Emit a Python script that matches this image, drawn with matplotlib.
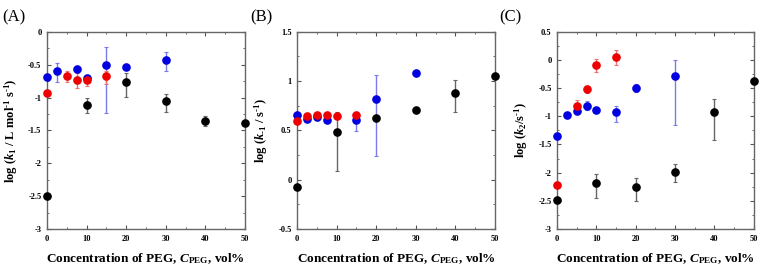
import matplotlib
matplotlib.use("Agg")
import matplotlib.pyplot as plt
from matplotlib.ticker import MultipleLocator, FuncFormatter

plt.rcParams['font.family'] = ['Liberation Serif', 'DejaVu Serif']
plt.rcParams['mathtext.fontset'] = 'custom'
plt.rcParams['mathtext.rm'] = 'Liberation Serif:bold'
plt.rcParams['mathtext.it'] = 'Liberation Serif:italic:bold'
plt.rcParams['mathtext.bf'] = 'Liberation Serif:bold'

# ---- Panel A data ----
a_black_x = [0, 10, 20, 30, 40, 50]
a_black_y = [-2.5, -1.11, -0.77, -1.05, -1.35, -1.39]
a_black_lo = [0, 0.12, 0.22, 0.17, 0.08, 0]
a_black_hi = [0, 0.10, 0.15, 0.11, 0.07, 0]
a_blue_x = [0, 2.5, 7.5, 10, 15, 20, 30]
a_blue_y = [-0.69, -0.60, -0.56, -0.71, -0.50, -0.54, -0.43]
a_blue_lo = [0, 0.17, 0, 0.04, 0.73, 0, 0.16]
a_blue_hi = [0, 0.12, 0, 0.04, 0.27, 0, 0.12]
a_red_x = [0, 5, 7.5, 10, 15]
a_red_y = [-0.93, -0.67, -0.73, -0.74, -0.68]
a_red_lo = [0, 0.10, 0.13, 0.09, 0.11]
a_red_hi = [0, 0.08, 0.10, 0.06, 0.09]

# ---- Panel B data ----
b_black_x = [0, 10, 20, 30, 40, 50]
b_black_y = [-0.07, 0.48, 0.63, 0.71, 0.88, 1.05]
b_black_lo = [0, 0.39, 0, 0, 0.19, 0]
b_black_hi = [0, 0.21, 0, 0, 0.13, 0]
b_blue_x = [0, 2.5, 5, 7.5, 15, 20, 30]
b_blue_y = [0.66, 0.62, 0.64, 0.61, 0.61, 0.82, 1.08]
b_blue_lo = [0, 0.03, 0, 0, 0.12, 0.58, 0]
b_blue_hi = [0, 0.02, 0, 0, 0.08, 0.24, 0]
b_red_x = [0, 2.5, 5, 7.5, 10, 15]
b_red_y = [0.60, 0.65, 0.66, 0.66, 0.65, 0.66]
b_red_lo = [0, 0, 0, 0, 0, 0]
b_red_hi = [0, 0, 0, 0, 0, 0]

# ---- Panel C data ----
c_black_x = [0, 10, 20, 30, 40, 50]
c_black_y = [-2.49, -2.19, -2.26, -1.98, -0.92, -0.37]
c_black_lo = [0, 0.26, 0.24, 0.19, 0.50, 0]
c_black_hi = [0, 0.17, 0.16, 0.13, 0.22, 0]
c_blue_x = [0, 2.5, 5, 7.5, 10, 15, 20, 30]
c_blue_y = [-1.35, -0.98, -0.90, -0.81, -0.89, -0.93, -0.49, -0.28]
c_blue_lo = [0, 0, 0.03, 0.08, 0.03, 0.17, 0.08, 0.87]
c_blue_hi = [0, 0, 0.03, 0.08, 0.03, 0.12, 0.07, 0.28]
c_red_x = [0, 5, 7.5, 10, 15]
c_red_y = [-2.22, -0.81, -0.52, -0.09, 0.06]
c_red_lo = [0, 0.10, 0.07, 0.13, 0.15]
c_red_hi = [0, 0.10, 0.05, 0.10, 0.11]

x_ticks = [0, 10, 20, 30, 40, 50]

panels = [
    dict(label='(A)', ylim=(-3, 0), major=0.5, minor=0.25,
         ylabel=r'log ($\mathit{k}_{1}$ / L mol$^{\text{-}1}$ s$^{\text{-}1}$)',
         series=[(a_black_x, a_black_y, a_black_lo, a_black_hi, 'black'),
                 (a_blue_x, a_blue_y, a_blue_lo, a_blue_hi, 'blue'),
                 (a_red_x, a_red_y, a_red_lo, a_red_hi, 'red')],
         pos=[0.0618, 0.1455, 0.2605, 0.736], lx=0.003),
    dict(label='(B)', ylim=(-0.5, 1.5), major=0.5, minor=0.25,
         ylabel=r'log ($\mathit{k}_{\text{-}1}$ / s$^{\text{-}1}$)',
         series=[(b_black_x, b_black_y, b_black_lo, b_black_hi, 'black'),
                 (b_blue_x, b_blue_y, b_blue_lo, b_blue_hi, 'blue'),
                 (b_red_x, b_red_y, b_red_lo, b_red_hi, 'red')],
         pos=[0.3908, 0.1455, 0.2605, 0.736], lx=0.329),
    dict(label='(C)', ylim=(-3, 0.5), major=0.5, minor=0.25,
         ylabel=r'log ($\mathit{k}_{2}$/s$^{\text{-}1}$)',
         series=[(c_black_x, c_black_y, c_black_lo, c_black_hi, 'black'),
                 (c_blue_x, c_blue_y, c_blue_lo, c_blue_hi, 'blue'),
                 (c_red_x, c_red_y, c_red_lo, c_red_hi, 'red')],
         pos=[0.7329, 0.1455, 0.259, 0.736], lx=0.657),
]

marker_col = {'black': '#000000', 'blue': '#0000e0', 'red': '#ee0000'}
err_col = {'black': '#666666', 'blue': '#7b7bea', 'red': '#ee7070'}

fig = plt.figure(figsize=(7.6, 2.68), dpi=100)

for p in panels:
    ax = fig.add_axes(p['pos'])
    for xs, ys, lo, hi, c in p['series']:
        ax.errorbar(xs, ys, yerr=[lo, hi], fmt='none', ecolor=err_col[c],
                    elinewidth=1.0, capsize=1.5, capthick=0.8, clip_on=False, zorder=2)
        ax.plot(xs, ys, 'o', color=marker_col[c], ms=5.2, mec=marker_col[c],
                clip_on=False, zorder=3)
    ax.set_xlim(0, 50)
    ax.set_ylim(*p['ylim'])
    ax.set_xticks(x_ticks)
    ax.xaxis.set_minor_locator(MultipleLocator(5))
    ax.yaxis.set_major_locator(MultipleLocator(p['major']))
    ax.yaxis.set_minor_locator(MultipleLocator(p['minor']))
    ax.yaxis.set_major_formatter(FuncFormatter(lambda v, pos: '%g' % round(v, 2)))
    ax.tick_params(which='both', direction='in', top=True, right=True,
                   labelsize=6, pad=4, color='#555555')
    ax.tick_params(which='major', length=3, width=0.8)
    ax.tick_params(which='minor', length=1.5, width=0.6)
    for lab in ax.get_xticklabels() + ax.get_yticklabels():
        lab.set_fontweight('bold')
    for s in ax.spines.values():
        s.set_color('#666666')
        s.set_linewidth(1.0)
    ax.set_ylabel(p['ylabel'], fontsize=9, fontweight='bold', labelpad=6)
    ax.set_xlabel(r'Concentration of PEG, $\mathit{C}_{\mathrm{PEG}}$, vol%',
                  fontsize=9.5, fontweight='bold', labelpad=6)
    fig.text(p['lx'], 0.935, p['label'], fontsize=12, ha='left', va='center')

fig.savefig('out.png', dpi=100)
